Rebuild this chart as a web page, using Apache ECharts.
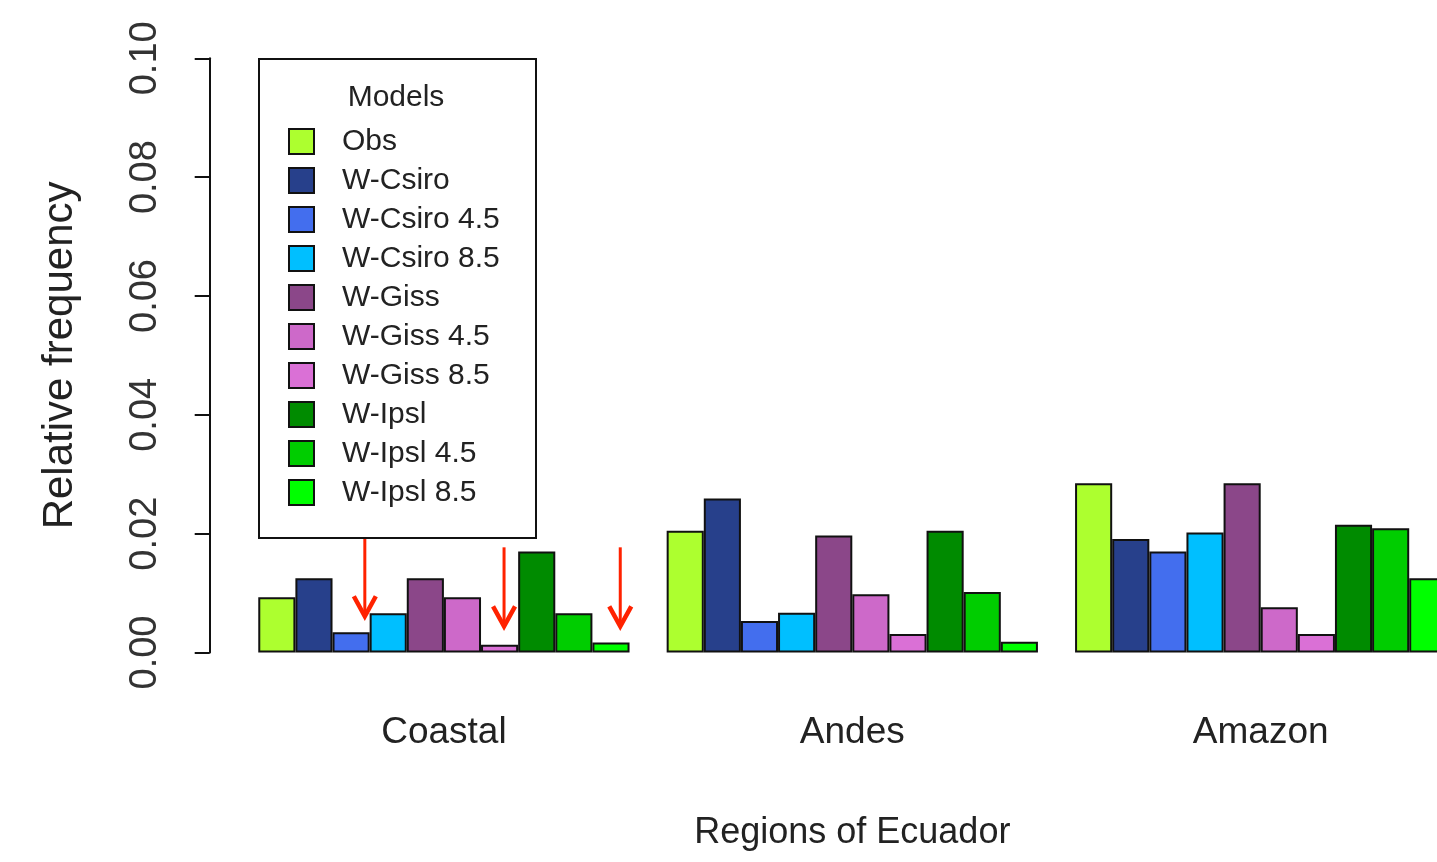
<!DOCTYPE html>
<html>
<head>
<meta charset="utf-8">
<script src="https://cdn.jsdelivr.net/npm/echarts@6/dist/echarts.min.js"></script>
<style>
html,body{margin:0;padding:0;background:#fff;overflow:hidden;width:1437px;height:862px;}
#chart{width:1470px;height:862px;}
</style>
</head>
<body>
<div id="chart"></div>
<script>
const regions = ['Coastal', 'Andes', 'Amazon'];
const models = ['Obs', 'W-Csiro', 'W-Csiro 4.5', 'W-Csiro 8.5', 'W-Giss', 'W-Giss 4.5', 'W-Giss 8.5', 'W-Ipsl', 'W-Ipsl 4.5', 'W-Ipsl 8.5'];
const modelColors = ['#ADFF2F', '#27408B', '#436EEE', '#00BFFF', '#8B4789', '#CD69C9', '#DA70D6', '#008B00', '#00CD00', '#00FF00'];
// values per region, in model order
const coastal = [0.0093, 0.0125, 0.0034, 0.0066, 0.0125, 0.0093, 0.0013, 0.0170, 0.0066, 0.0017];
const andes   = [0.0205, 0.0259, 0.0053, 0.0067, 0.0197, 0.0098, 0.0031, 0.0205, 0.0102, 0.0018];
const amazon  = [0.0285, 0.0191, 0.0170, 0.0202, 0.0285, 0.0076, 0.0031, 0.0215, 0.0209, 0.0125];
const yTicks = [0, 0.02, 0.04, 0.06, 0.08, 0.10];
// annotation arrows: [position along the bars (in bar widths from the left of the first group), start value, end value]
const arrows = [[3.37, 0.0194, 0.0061], [7.12, 0.0177, 0.0044], [10.25, 0.0177, 0.0044]];

const byRegion = [coastal, andes, amazon];
const sans = "'Liberation Sans', Arial, sans-serif";

const series = models.map((m, i) => ({
  name: m,
  type: 'bar',
  xAxisIndex: 0,
  yAxisIndex: 0,
  barGap: '0%',
  barCategoryGap: (100 / 11) + '%',
  data: byRegion.map(r => r[i]),
  itemStyle: { color: modelColors[i], borderColor: '#111', borderWidth: 2 },
  emphasis: { disabled: true },
  animation: false
}));

series.push({
  type: 'custom',
  xAxisIndex: 1,
  yAxisIndex: 0,
  silent: true,
  animation: false,
  clip: false,
  data: arrows,
  renderItem: function (params, api) {
    const p0 = api.coord([api.value(0), api.value(1)]);
    const p1 = api.coord([api.value(0), api.value(2)]);
    const hw = 11, hd = 20;
    return {
      type: 'group',
      children: [
        { type: 'line', shape: { x1: p0[0], y1: p0[1], x2: p1[0], y2: p1[1] - 2 }, style: { stroke: '#FF2200', lineWidth: 3 } },
        { type: 'polyline', shape: { points: [[p1[0] - hw, p1[1] - hd], [p1[0], p1[1]], [p1[0] + hw, p1[1] - hd]] }, style: { stroke: '#FF2200', lineWidth: 4.5, fill: null, lineJoin: 'miter' } }
      ]
    };
  }
});

const gridTop = 58.3, gridBottom = 209.5;
const chart = echarts.init(document.getElementById('chart'), null, { renderer: 'canvas' });
chart.setOption({
  backgroundColor: '#fff',
  animation: false,
  grid: [
    { left: 239.7, top: gridTop, width: 1225.2, bottom: gridBottom, containLabel: false, outerBoundsMode: 'none' },
    { left: 209.7, top: gridTop, width: 20, bottom: gridBottom, containLabel: false, outerBoundsMode: 'none' }
  ],
  xAxis: [{
    type: 'category',
    gridIndex: 0,
    data: regions,
    axisLine: { show: false },
    axisTick: { show: false },
    axisLabel: { fontFamily: sans, fontSize: 37, color: '#222', margin: 62 },
    name: 'Regions of Ecuador',
    nameLocation: 'middle',
    nameGap: 163,
    nameTextStyle: { fontFamily: sans, fontSize: 36, color: '#222' }
  }, {
    type: 'value',
    gridIndex: 0,
    min: 0,
    max: 33,
    show: false
  }, {
    type: 'value',
    gridIndex: 1,
    min: 0,
    max: 1,
    show: false
  }],
  yAxis: [{
    type: 'value',
    gridIndex: 0,
    min: 0,
    max: 0.1,
    interval: 0.02,
    show: false
  }, {
    type: 'value',
    gridIndex: 1,
    min: 0,
    max: 0.1,
    interval: 0.02,
    splitLine: { show: false },
    axisLine: { show: true, lineStyle: { color: '#111', width: 2 } },
    axisTick: { show: true, length: 15, lineStyle: { color: '#111', width: 2 } },
    axisLabel: {
      rotate: 90,
      fontFamily: sans,
      fontSize: 38,
      color: '#333',
      margin: 45,
      formatter: v => { const t = yTicks.find(x => Math.abs(x - v) < 1e-9); return (t !== undefined ? t : v).toFixed(2); }
    },
    name: 'Relative frequency',
    nameLocation: 'middle',
    nameRotate: 90,
    nameGap: 128,
    nameTextStyle: { fontFamily: sans, fontSize: 42, color: '#222' }
  }],
  legend: {
    orient: 'vertical',
    left: 288,
    top: 126.5,
    padding: 0,
    itemWidth: 25,
    itemHeight: 25,
    itemGap: 9,
    icon: 'rect',
    selectedMode: false,
    data: models,
    textStyle: { fontFamily: sans, fontSize: 30, color: '#222', padding: [0, 0, 0, 23] }
  },
  graphic: [
    { type: 'rect', shape: { x: 259, y: 59, width: 277, height: 479 }, style: { fill: null, stroke: '#111', lineWidth: 2 }, z: 10 },
    { type: 'text', x: 396, y: 98, style: { text: 'Models', fontFamily: sans, fontSize: 30, fill: '#222', textAlign: 'center', textVerticalAlign: 'middle' }, z: 10 }
  ],
  series: series
});
</script>
</body>
</html>
